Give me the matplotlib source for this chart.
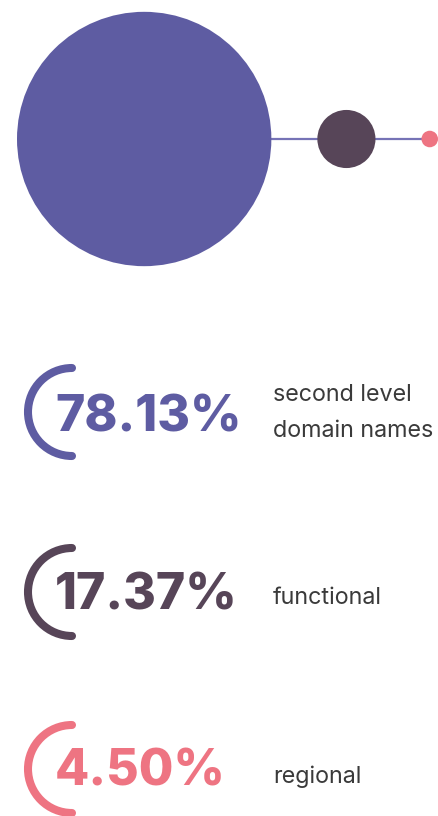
import matplotlib
matplotlib.use("Agg")
import matplotlib.pyplot as plt
from matplotlib.patches import Circle, Arc

# Data
categories = ["second level\ndomain names", "functional", "regional"]
values = [78.13, 17.37, 4.50]
labels_pct = ["78.13%", "17.37%", "4.50%"]
colors = ["#5e5ca2", "#574558", "#ee7482"]

W, H = 439, 816
fig = plt.figure(figsize=(W / 100, H / 100), dpi=100)
ax = fig.add_axes([0, 0, 1, 1])
ax.set_xlim(0, W)
ax.set_ylim(H, 0)
ax.set_aspect("equal")
ax.axis("off")

# Bubble chain on top
scale = 1.615
radii = [v * scale + 1 for v in values]
gap = 46
cy = 139
x = 17
centers = []
for r in radii:
    cx = x + r
    centers.append(cx)
    x = cx + r + gap
ax.plot([centers[0], centers[-1]], [cy, cy], color="#7673b6", lw=1.6, zorder=1)
for cx, r, c in zip(centers, radii, colors):
    ax.add_patch(Circle((cx, cy), r, color=c, zorder=2, lw=0))

# Rows
row_y = [412, 592, 769]
pct_base = [432, 609, 786]
lab_base = [[401, 437], [604], [783]]
for i, (lab, pct, c) in enumerate(zip(categories, labels_pct, colors)):
    yc = row_y[i]
    arc = Arc((72, yc), 88, 88, theta1=90, theta2=270, color=c, lw=5.8, zorder=2)
    arc.set_capstyle("round")
    ax.add_patch(arc)
    ax.text(55, pct_base[i], pct, color=c, fontsize=36, fontweight=800,
            family="Inter", ha="left", va="baseline", zorder=3)
    for line, yb in zip(lab.split("\n"), lab_base[i]):
        ax.text(273, yb, line, color="#3a3a3a", fontsize=16.8, family="Inter",
                ha="left", va="baseline")

fig.savefig("out.png", dpi=100, facecolor="white")
